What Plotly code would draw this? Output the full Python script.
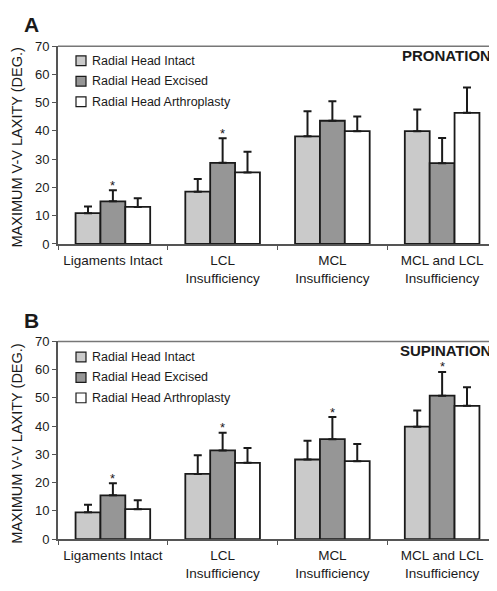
import plotly.graph_objects as go

categories = ["Ligaments Intact", "LCL<br>Insufficiency", "MCL<br>Insufficiency", "MCL and LCL<br>Insufficiency"]
series_names = ["Radial Head Intact", "Radial Head Excised", "Radial Head Arthroplasty"]

# Panel A - Pronation (means and upper error values)
pron_intact = [10.9, 18.5, 38.1, 39.9]
pron_excised = [15.1, 28.7, 43.6, 28.6]
pron_arthro = [13.1, 25.3, 39.9, 46.4]
pron_intact_err = [2.4, 4.5, 8.9, 7.7]
pron_excised_err = [3.9, 8.7, 6.9, 8.9]
pron_arthro_err = [3.1, 7.3, 5.2, 9.0]
pron_sig = [True, True, False, False]

# Panel B - Supination
sup_intact = [9.5, 23.1, 28.2, 39.8]
sup_excised = [15.5, 31.4, 35.4, 50.8]
sup_arthro = [10.6, 27.0, 27.6, 47.2]
sup_intact_err = [2.7, 6.6, 6.6, 5.7]
sup_excised_err = [4.3, 6.3, 7.8, 8.4]
sup_arthro_err = [3.2, 5.3, 6.1, 6.6]
sup_sig = [True, True, True, True]

y_ticks = [0, 10, 20, 30, 40, 50, 60, 70]
colors = ["#cacaca", "#969696", "#ffffff"]
FONT = "Arial, Liberation Sans, sans-serif"
INK = "#1a1a1a"

# page body has an 8px margin; compensate so absolute positions match
OFF = 8
W, H = 497 - OFF, 591 - OFF
ML = 50
PW = W - ML

def py(px):
    return 1 - (px - OFF) / H

def pxx(px):
    return (px - OFF - ML) / PW

fig = go.Figure()

panels = [
    ("x", "y", [pron_intact, pron_excised, pron_arthro],
     [pron_intact_err, pron_excised_err, pron_arthro_err], pron_sig),
    ("x2", "y2", [sup_intact, sup_excised, sup_arthro],
     [sup_intact_err, sup_excised_err, sup_arthro_err], sup_sig),
]

for xa, ya, vals, errs, sig in panels:
    for name, v, e, c in zip(series_names, vals, errs, colors):
        fig.add_trace(go.Bar(
            x=categories, y=v, name=name, xaxis=xa, yaxis=ya, showlegend=False,
            marker=dict(color=c, line=dict(color=INK, width=1.8)),
            error_y=dict(type="data", symmetric=False, array=e,
                         arrayminus=[0] * len(e), color=INK,
                         thickness=2, width=4),
        ))
    ex_v, ex_e = vals[1], errs[1]
    for i, s in enumerate(sig):
        if s:
            fig.add_annotation(x=i, y=ex_v[i] + ex_e[i], xref=xa, yref=ya,
                               text="*", showarrow=False, yshift=5,
                               font=dict(family=FONT, size=13, color=INK))

axis_common = dict(
    showline=True, linecolor="#555555", linewidth=2,
    ticks="outside", ticklen=4, tickcolor="#555555",
    tickfont=dict(family=FONT, size=13, color=INK),
    showgrid=False, zeroline=False,
)

fig.update_layout(
    width=W, height=H,
    margin=dict(l=ML, r=0, t=0, b=0),
    paper_bgcolor="white", plot_bgcolor="white",
    barmode="group", bargap=0.32, bargroupgap=0,
    showlegend=False,
    font=dict(family=FONT, color=INK),
    xaxis=dict(domain=[0, 1], anchor="y", tickson="boundaries",
               ticklabelstandoff=3, **axis_common),
    xaxis2=dict(domain=[0, 1], anchor="y2", tickson="boundaries",
                ticklabelstandoff=3, **axis_common),
    yaxis=dict(domain=[py(243), py(40)], anchor="x", range=[0, 70],
               tickvals=y_ticks, **axis_common),
    yaxis2=dict(domain=[py(546), py(343)], anchor="x2", range=[0, 70],
                tickvals=y_ticks, **axis_common),
)
fig.update_xaxes(tickfont=dict(size=13.5))

# top frame lines
for ytop in (40, 343):
    fig.add_shape(type="line", xref="paper", yref="paper", x0=0, x1=1,
                  y0=py(ytop), y1=py(ytop), line=dict(color="#777777", width=1.5))

# manual legends
legend_rows = {"A": [55, 76, 97], "B": [359, 380, 401]}
for key, rows in legend_rows.items():
    for name, c, yc in zip(series_names, colors, rows):
        fig.add_shape(type="rect", xref="paper", yref="paper",
                      x0=pxx(76), x1=pxx(86), y0=py(yc + 5), y1=py(yc - 5),
                      fillcolor=c, line=dict(color=INK, width=1.2))
        fig.add_annotation(text=name, xref="paper", yref="paper",
                           x=pxx(90), y=py(yc), xanchor="left", yanchor="middle",
                           showarrow=False,
                           font=dict(family=FONT, size=12.5, color=INK))

# y axis titles
for yc in (144, 448):
    fig.add_annotation(text="MAXIMUM V-V LAXITY (DEG.)", xref="paper", yref="paper",
                       x=pxx(17), y=py(yc), xanchor="center", yanchor="middle",
                       textangle=-90, showarrow=False,
                       font=dict(family=FONT, size=14.5, color=INK))

fig.add_annotation(text="<b>PRONATION</b>", xref="paper", yref="paper",
                   x=pxx(493), y=py(50), xanchor="right", yanchor="middle", showarrow=False,
                   font=dict(family=FONT, size=15, color=INK))
fig.add_annotation(text="<b>SUPINATION</b>", xref="paper", yref="paper",
                   x=pxx(493), y=py(352), xanchor="right", yanchor="middle", showarrow=False,
                   font=dict(family=FONT, size=15, color=INK))
fig.add_annotation(text="<b>A</b>", xref="paper", yref="paper",
                   x=pxx(22), y=py(18), xanchor="left", yanchor="middle",
                   showarrow=False, font=dict(family=FONT, size=21, color=INK))
fig.add_annotation(text="<b>B</b>", xref="paper", yref="paper",
                   x=pxx(22), y=py(322), xanchor="left", yanchor="middle",
                   showarrow=False, font=dict(family=FONT, size=21, color=INK))

fig.write_html("out.html")
